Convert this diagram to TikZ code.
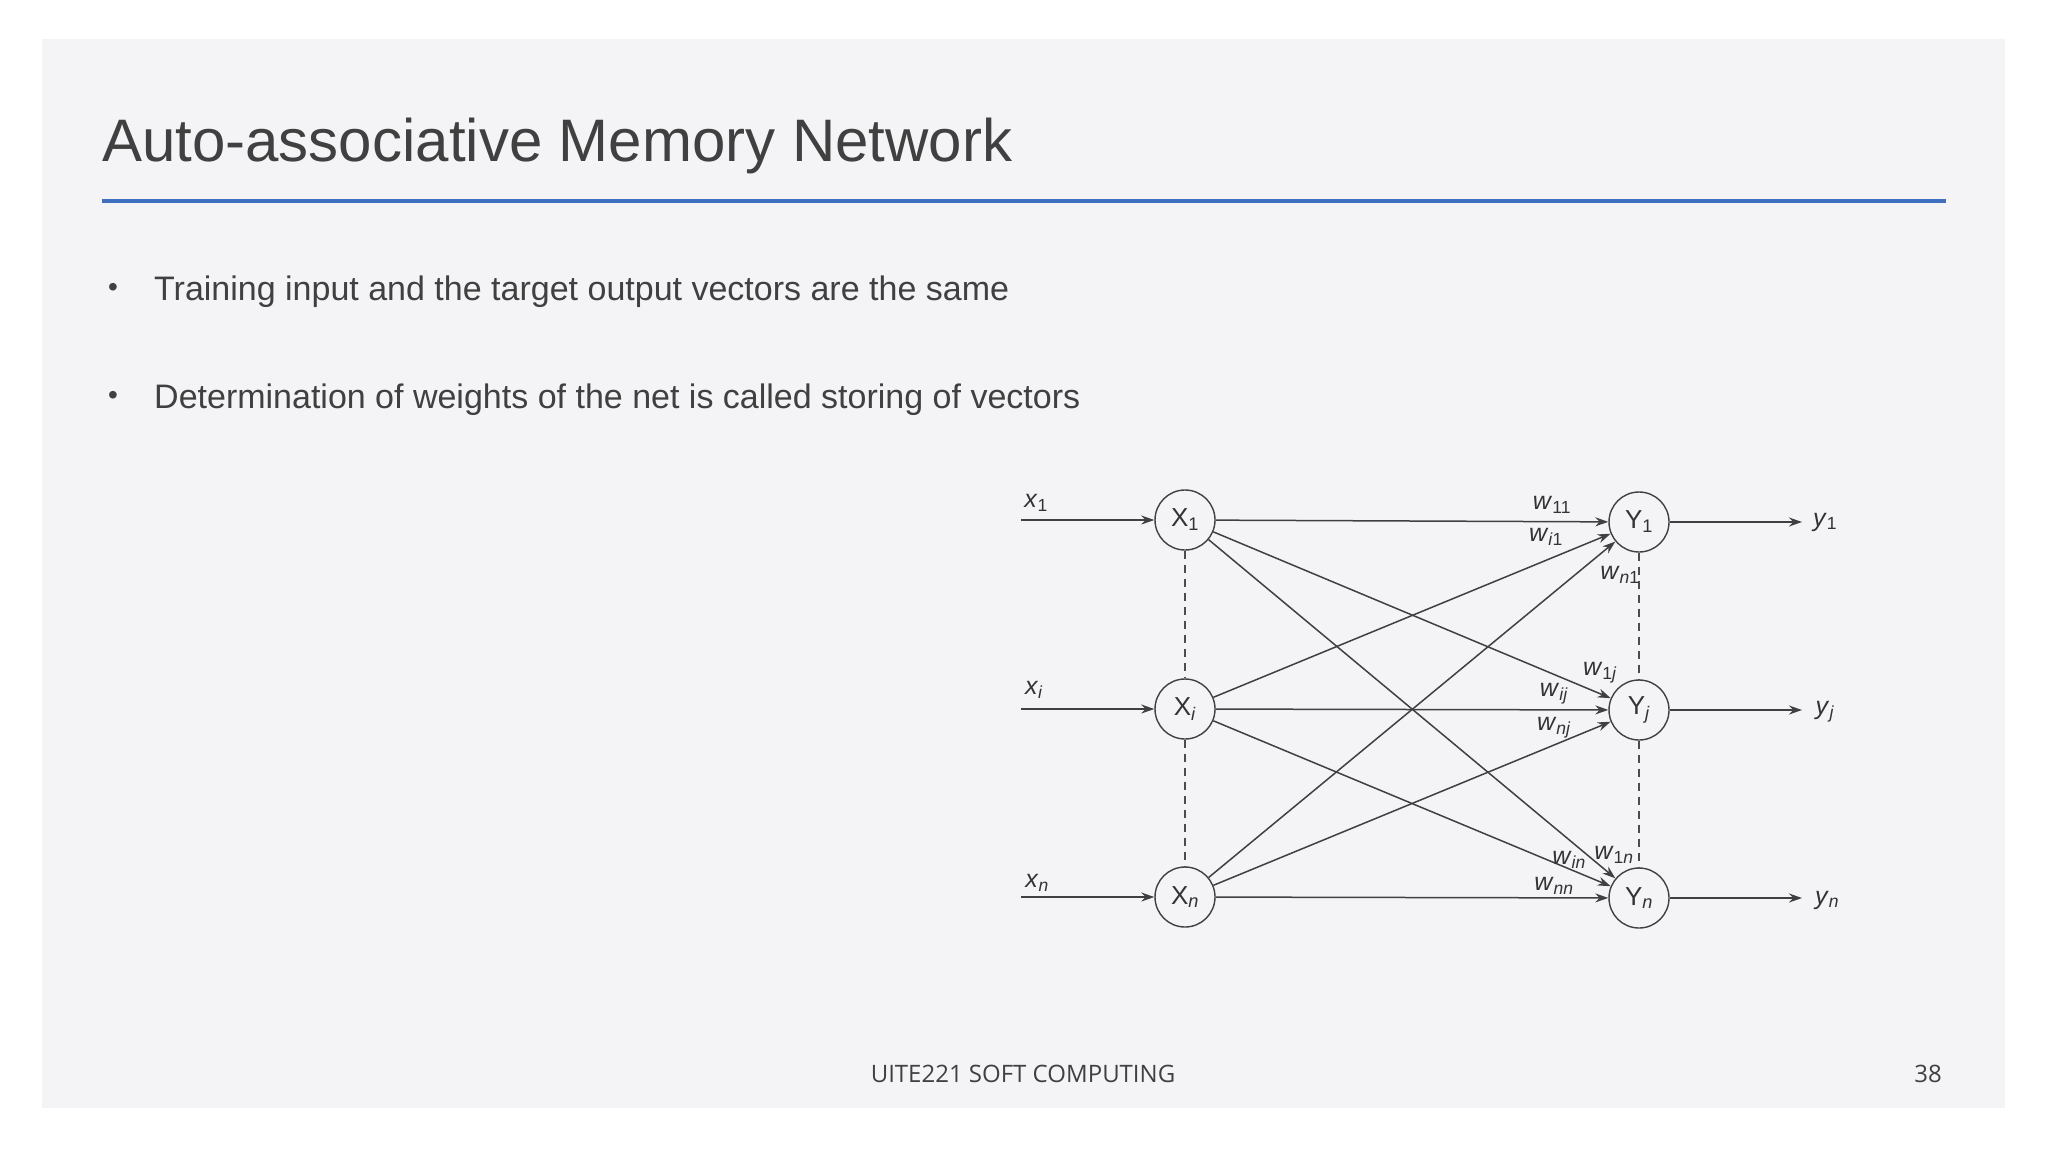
\documentclass[tikz,border=0pt]{standalone}
\usepackage{fontspec}
\setmainfont{Liberation Sans}
\newfontfamily\foot{Open Sans}
\usetikzlibrary{arrows.meta}
\definecolor{bg}{HTML}{F4F3F6}
\definecolor{ttl}{HTML}{404040}
\definecolor{bl}{HTML}{3F6FBF}
\newcommand{\sub}[1]{\textsubscript{#1}}
\begin{document}
\begin{tikzpicture}[x=1pt,y=-1pt,
  neu/.style={circle,draw=black!75,line width=1.4pt,minimum size=60pt,inner sep=0pt,font=\fontsize{26}{28}\selectfont,text=black!80},
  con/.style={draw=black!75,line width=1.5pt,-{Stealth[length=13pt,width=9pt]}},
  lab/.style={font=\fontsize{25}{26}\selectfont,text=black!80,inner sep=0pt},
  dsh/.style={draw=black!70,line width=1.2pt,dash pattern=on 8pt off 6pt}]
\useasboundingbox (0,0) rectangle (2048,1152);
\fill[white] (0,0) rectangle (2048,1152);
\fill[bg] (42,39) rectangle (2005,1108);
\node[anchor=west,inner sep=0pt,text=ttl,font=\fontsize{60}{64}\selectfont] (title) at (102,146) {Auto-associative Memory Network};
\draw[bl,line width=4pt] (102,201) -- (1946,201);
\node[anchor=west,inner sep=0pt,text=ttl,font=\fontsize{34}{38}\selectfont] (b1) at (154,292) {Training input and the target output vectors are the same};
\node[anchor=west,inner sep=0pt,text=ttl,font=\fontsize{34}{38}\selectfont] (b2) at (154,400) {Determination of weights of the net is called storing of vectors};
\node[inner sep=0pt,text=ttl,font=\fontsize{28}{30}\selectfont] at (113,290) {•};
\node[inner sep=0pt,text=ttl,font=\fontsize{28}{30}\selectfont] at (113,398) {•};
\node[inner sep=0pt,text=ttl,font=\foot\fontsize{24}{28}\selectfont] (ft) at (1023,1074) {UITE221 SOFT COMPUTING};
\node[inner sep=0pt,text=ttl,font=\foot\fontsize{24}{28}\selectfont] (pg) at (1928,1074) {38};
% nodes
\node[neu] (X1) at (1185,520) {X\sub{1}};
\node[neu] (Xi) at (1185,709) {X\sub{\textit{i}}};
\node[neu] (Xn) at (1185,897) {X\sub{\textit{n}}};
\node[neu] (Y1) at (1639,522) {Y\sub{1}};
\node[neu] (Yj) at (1639,710) {Y\sub{\textit{j}}};
\node[neu] (Yn) at (1639,898) {Y\sub{\textit{n}}};
\coordinate (i1) at (1021,520); \coordinate (ii) at (1021,709); \coordinate (in) at (1021,897);
\coordinate (o1) at (1802,522); \coordinate (oj) at (1802,710); \coordinate (on) at (1802,898);
\draw[dsh] (X1) -- (Xi); \draw[dsh] (Xi) -- (Xn);
\draw[dsh] (Y1) -- (Yj); \draw[dsh] (Yj) -- (Yn);
\foreach \a/\b in {i1/X1,ii/Xi,in/Xn} \draw[con] (\a) -- (\b);
\foreach \a/\b in {Y1/o1,Yj/oj,Yn/on} \draw[con] (\a) -- (\b);
\foreach \a in {X1,Xi,Xn} \foreach \b in {Y1,Yj,Yn} \draw[con] (\a) -- (\b);
% labels
\node[lab] (lx1) at (1036,503) {\textit{x}\sub{1}};
\node[lab] (lxi) at (1034,690) {\textit{x}\sub{\textit{i}}};
\node[lab] (lxn) at (1037,883) {\textit{x}\sub{\textit{n}}};
\node[lab] (ly1) at (1825,522) {\textit{y}\sub{1}};
\node[lab] (lyj) at (1825,712) {\textit{y}\sub{\textit{j}}};
\node[lab] (lyn) at (1827,900) {\textit{y}\sub{\textit{n}}};
\node[lab] (w11) at (1552,505) {\textit{w}\sub{11}};
\node[lab] (wi1) at (1546,537) {\textit{w}\sub{\textit{i}1}};
\node[lab] (wn1) at (1620,575) {\textit{w}\sub{\textit{n}1}};
\node[lab] (w1j) at (1600,673) {\textit{w}\sub{1\textit{j}}};
\node[lab] (wij) at (1554,694) {\textit{w}\sub{\textit{ij}}};
\node[lab] (wnj) at (1554,728) {\textit{w}\sub{\textit{nj}}};
\node[lab] (win) at (1569,860) {\textit{w}\sub{\textit{in}}};
\node[lab] (w1n) at (1614,855) {\textit{w}\sub{1\textit{n}}};
\node[lab] (wnn) at (1554,886) {\textit{w}\sub{\textit{nn}}};
\end{tikzpicture}
\end{document}
